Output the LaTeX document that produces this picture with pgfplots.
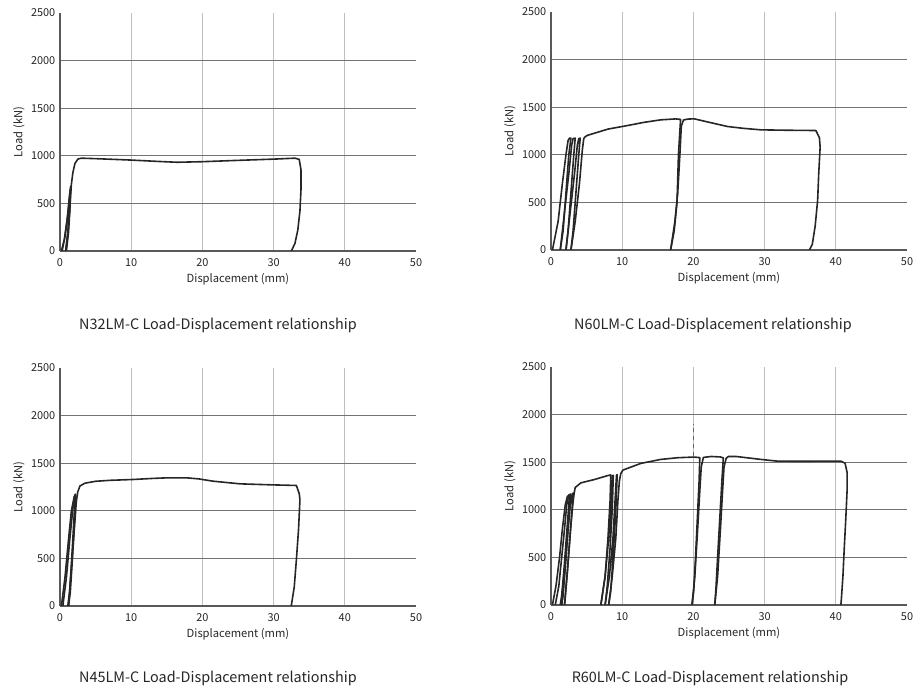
\documentclass[border=0pt]{standalone}
\usepackage{pgfplots}
\pgfplotsset{compat=1.18}
\usepackage{fontspec}
\setmainfont{Noto Sans CJK JP}
\pgfplotsset{
  curve/.style={draw=black!85, line width=1.2pt, line join=round, line cap=round, mark=none, solid},
  myax/.style={
    scale only axis, width=267pt, height=178.5pt,
    xmin=0, xmax=50, ymin=0, ymax=2500,
    xtick={0,10,20,30,40}, ytick={0,500,1000,1500,2000},
    extra x ticks={50}, extra y ticks={2500},
    extra x tick style={grid=none}, extra y tick style={grid=none},
    axis lines=left, axis line style={-, draw=black!65, line width=0.8pt},
    major tick length=0pt,
    xmajorgrids, ymajorgrids,
    x grid style={draw=black!25, line width=0.7pt},
    y grid style={draw=black!55, line width=0.8pt},
    /pgf/number format/assume math mode=true,
    /pgf/number format/1000 sep={},
    tick label style={font=\fontsize{8.2}{9}\selectfont, text=black!85},
    xticklabel style={yshift=-2pt},
    label style={font=\fontsize{8.4}{9}\selectfont, text=black!85},
    xlabel={Displacement (mm)}, ylabel={Load (kN)},
    xlabel style={yshift=2pt},
    ylabel style={yshift=-2pt},
  }
}
\begin{document}
\begin{tikzpicture}
\useasboundingbox (0,0) rectangle (691.5pt,519pt);
% ---------------- N32LM-C ----------------
\begin{axis}[myax, at={(45pt,330.75pt)}, anchor=south west]
\addplot[curve] coordinates {(0.2,0) (0.6,120) (1.0,330) (1.3,550) (1.45,650) (1.35,420) (1.1,180) (0.8,0)};
\addplot[curve] coordinates {(0.3,0) (0.7,150) (1.1,380) (1.4,620) (1.5,680) (1.4,450) (1.2,200) (0.9,0)};
\addplot[curve] coordinates {(0.8,0) (1.1,200) (1.4,480) (1.6,700) (1.8,820) (2.1,920) (2.5,965) (3.0,975) (5,970) (10,955) (14,940) (16.5,932) (20,938) (25,952) (30,965) (33,975) (33.6,962) (33.85,850) (33.85,650) (33.7,420) (33.4,220) (33.0,80) (32.5,0)};
\end{axis}
% ---------------- N45LM-C ----------------
\begin{axis}[myax, at={(45pt,64.5pt)}, anchor=south west]
\addplot[curve] coordinates {(0.2,0) (0.7,300) (1.2,700) (1.6,1000) (2.0,1150) (2.15,1170) (1.95,900) (1.65,500) (1.35,150) (1.1,0)};
\addplot[curve] coordinates {(0.4,0) (0.9,300) (1.4,720) (1.8,1020) (2.1,1160) (2.2,1175) (2.05,900) (1.75,500) (1.45,150) (1.2,0)};
\addplot[curve] coordinates {(1.2,0) (1.6,400) (2.0,800) (2.3,1100) (2.5,1200) (2.8,1260) (3.5,1290) (5,1310) (7,1320) (10.3,1329) (13,1340) (15,1346) (17.8,1346) (19.5,1335) (21.5,1311) (25.3,1283) (30,1272) (33.2,1266) (33.6,1180) (33.7,1118) (33.5,800) (33.2,485) (32.9,200) (32.5,10) (32.45,0)};
\end{axis}
% ---------------- N60LM-C ----------------
\begin{axis}[myax, at={(413.25pt,331.5pt)}, anchor=south west]
\addplot[curve] coordinates {(0.2,0) (1.0,300) (1.6,700) (2.1,1000) (2.4,1150) (2.6,1175) (2.8,1175) (2.5,1000) (2.1,600) (1.7,200) (1.3,0)};
\addplot[curve] coordinates {(1.3,0) (1.9,400) (2.5,800) (2.9,1100) (3.1,1170) (3.4,1175) (3.2,1000) (2.8,600) (2.4,200) (2.1,0)};
\addplot[curve] coordinates {(2.1,0) (2.7,400) (3.3,800) (3.7,1100) (3.9,1170) (4.1,1175) (3.9,1000) (3.5,600) (3.1,200) (2.8,0)};
\addplot[curve] coordinates {(2.8,0) (3.4,300) (4.0,700) (4.4,1050) (4.6,1170) (4.8,1190) (5.15,1205) (8,1270) (10.8,1308) (13,1340) (15.4,1367) (17.5,1377) (18.2,1372) (18.1,1250) (17.9,1000) (17.7,500) (17.3,200) (16.8,0)};
\addplot[curve] coordinates {(16.8,0) (17.4,300) (17.8,600) (18.1,1000) (18.3,1300) (18.6,1365) (19.2,1375) (20.1,1378) (22,1345) (24.8,1297) (27,1278) (29.5,1262) (33,1258) (37.2,1255) (37.7,1180) (37.8,1080) (37.6,800) (37.45,523) (37.1,250) (36.7,60) (36.3,0)};
\end{axis}
% ---------------- R60LM-C ----------------
\begin{axis}[myax, at={(413.25pt,65.25pt)}, anchor=south west]
\addplot[curve] coordinates {(0.2,0) (0.7,200) (1.2,500) (1.6,800) (2.0,1050) (2.3,1140) (2.6,1160) (2.45,1000) (2.15,700) (1.85,400) (1.5,100) (1.3,0)};
\addplot[curve] coordinates {(0.6,0) (1.1,200) (1.5,500) (1.9,800) (2.2,1050) (2.5,1150) (2.75,1165) (2.6,1000) (2.3,700) (2.0,400) (1.7,100) (1.5,0)};
\addplot[curve] coordinates {(1.5,0) (2.0,400) (2.4,800) (2.7,1050) (3.0,1170) (3.15,1175) (2.95,1000) (2.65,700) (2.3,350) (2.0,80) (1.9,0)};
\addplot[curve] coordinates {(1.9,0) (2.35,400) (2.75,800) (3.05,1050) (3.25,1175) (3.4,1234) (4.2,1283) (6.1,1318) (8.0,1360) (8.4,1366) (8.3,1100) (8.0,700) (7.6,300) (7.0,0)};
\addplot[curve] coordinates {(7.0,0) (7.6,300) (8.1,700) (8.45,1100) (8.6,1355) (8.75,1362) (8.6,1000) (8.3,600) (7.9,200) (7.6,0)};
\addplot[curve] coordinates {(7.6,0) (8.2,300) (8.7,700) (9.0,1100) (9.2,1364) (9.3,1368) (9.1,1000) (8.8,600) (8.4,150) (8.1,0)};
\addplot[curve] coordinates {(8.1,0) (8.6,300) (9.1,700) (9.4,1100) (9.6,1300) (9.8,1380) (10.1,1417) (12.6,1487) (15.4,1529) (17.8,1547) (20.1,1554) (20.9,1548) (20.8,1300) (20.55,900) (20.3,500) (20.05,150) (19.8,0)};
\addplot[curve] coordinates {(19.8,0) (20.2,300) (20.6,800) (20.9,1200) (21.1,1450) (21.4,1550) (22.5,1560) (23.8,1555) (24.2,1545) (24.0,1300) (23.7,900) (23.4,500) (23.15,150) (23.0,0)};
\addplot[curve] coordinates {(23.0,0) (23.4,300) (23.8,800) (24.1,1200) (24.3,1450) (24.6,1540) (24.9,1560) (26,1560) (29.5,1529) (31.8,1511) (35,1510) (38.8,1511) (40.7,1511) (41.3,1490) (41.6,1388) (41.6,1225) (41.4,900) (41.2,615) (41.0,300) (40.75,30) (40.7,0)};
\addplot[line width=0.4pt, dashed, draw=black!60, mark=none] coordinates {(20,1560) (20,1900)};
\end{axis}
% captions
\node[font=\fontsize{10.8}{13}\selectfont, text=black!85] at (163.5pt,275.25pt) {N32LM-C Load-Displacement relationship};
\node[font=\fontsize{10.8}{13}\selectfont, text=black!85] at (534.75pt,275.25pt) {N60LM-C Load-Displacement relationship};
\node[font=\fontsize{10.8}{13}\selectfont, text=black!85] at (163.5pt,10.5pt) {N45LM-C Load-Displacement relationship};
\node[font=\fontsize{10.8}{13}\selectfont, text=black!85] at (532.5pt,10.5pt) {R60LM-C Load-Displacement relationship};
\end{tikzpicture}
\end{document}
